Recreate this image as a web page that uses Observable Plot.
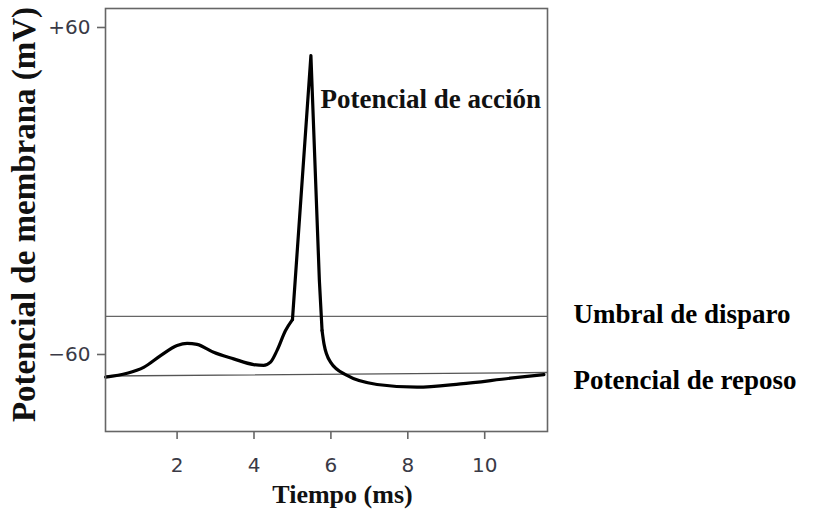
<!DOCTYPE html>
<html><head><meta charset="utf-8">
<script src="https://cdn.jsdelivr.net/npm/d3@7"></script>
<script src="https://cdn.jsdelivr.net/npm/@observablehq/plot@0.6"></script>
<style>body{margin:0;background:#fff}</style>
</head><body><div id="chart"></div>
<script>
// Action potential trace (time in ms, membrane potential in mV)
const time    = [0.14, 0.70, 1.13, 1.57, 2.00, 2.26, 2.52, 2.95, 3.47, 3.99, 4.25, 4.43, 4.60, 4.82, 5.00, 5.48, 5.70, 5.77, 5.82, 5.99, 6.42, 7.20, 8.24, 9.37, 10.67, 11.54];
const voltage = [-68.3, -66.9, -64.7, -60.4, -56.7, -55.9, -56.3, -59.2, -61.6, -63.7, -64.0, -62.8, -58.5, -51.2, -47.2, 49.7, -32.8, -51.2, -56.1, -62.8, -67.7, -71.0, -72.0, -70.8, -68.7, -67.4];
const kinkIndex = 14;   // threshold kink where the spike starts
const bendIndex = 17;   // foot of the falling phase

const threshold = -46;                 // Umbral de disparo
const restTime = [0.14, 11.63];        // Potencial de reposo line
const restVoltage = [-67.9, -66.6];

const xDomain = [0.138, 11.633];
const yDomain = [-88.26, 66.97];
const xTicks = [2, 4, 6, 8, 10];
const yTicks = [60, -60];

const yLabel = "Potencial de membrana (mV)";
const xLabel = "Tiempo (ms)";
const spikeLabel = ["Potencial de acción"];
const spikeLabelPos = {t: 5.73, v: 33.8};
const thresholdLabel = "Umbral de disparo";
const restLabel = "Potencial de reposo";
const restLabelV = -69.5;

const idx = d3.range(time.length);
const seg1 = idx.slice(0, kinkIndex + 1);
const seg2 = idx.slice(kinkIndex, bendIndex + 1);
const seg3 = idx.slice(bendIndex);
const X = i => time[i], Y = i => voltage[i];
const rest = restTime.map((t, i) => ({t, v: restVoltage[i]}));

const serif = "'Liberation Serif', 'Times New Roman', serif";
const lineStyle = {stroke: "#000", strokeWidth: 3.2, strokeLinejoin: "round", strokeLinecap: "round"};

const chart = Plot.plot({
  width: 819, height: 512,
  marginLeft: 105, marginRight: 272, marginTop: 8, marginBottom: 81,
  style: {fontFamily: "'DejaVu Sans', sans-serif", background: "#fff", color: "#333", overflow: "visible"},
  x: {domain: xDomain},
  y: {domain: yDomain},
  marks: [
    Plot.ruleY([threshold], {stroke: "#666", strokeWidth: 1.3}),
    Plot.line(rest, {x: "t", y: "v", stroke: "#555", strokeWidth: 1.3}),
    Plot.line(seg1, {x: X, y: Y, curve: "monotone-x", ...lineStyle}),
    Plot.line(seg2, {x: X, y: Y, curve: "linear", ...lineStyle}),
    Plot.line(seg3, {x: X, y: Y, curve: "monotone-x", ...lineStyle}),
    Plot.frame({stroke: "#666", strokeWidth: 1.6}),
    Plot.axisX({ticks: xTicks, tickSize: 8, tickPadding: 18, fontSize: 20, label: null, stroke: "#666", strokeWidth: 1.6, fill: "#3a3a46"}),
    Plot.axisY({ticks: yTicks, tickSize: 8, tickPadding: 7, fontSize: 20, label: null, stroke: "#666", strokeWidth: 1.6, fill: "#3a3a46",
      tickFormat: d => d > 0 ? "+" + d : "\u2212" + Math.abs(d)}),
    Plot.text([yLabel], {text: d => d, frameAnchor: "left", rotate: -90, dx: -80.6, dy: -5.5, textAnchor: "middle", lineAnchor: "middle",
      fontSize: 33, fontFamily: serif, fontWeight: "bold", fill: "#111"}),
    Plot.text([xLabel], {text: d => d, frameAnchor: "bottom", dx: 16, dy: 62.7, textAnchor: "middle", lineAnchor: "middle",
      fontSize: 26, fontFamily: serif, fontWeight: "bold", fill: "#111"}),
    Plot.text(spikeLabel, {text: d => d, x: () => spikeLabelPos.t, y: () => spikeLabelPos.v, textAnchor: "start", lineAnchor: "middle",
      fontSize: 27, fontFamily: serif, fontWeight: "bold", fill: "#111"}),
    Plot.text([thresholdLabel], {text: d => d, y: () => threshold, frameAnchor: "right", dx: 26, dy: -1.5, textAnchor: "start", lineAnchor: "middle",
      fontSize: 27, fontFamily: serif, fontWeight: "bold", fill: "#000"}),
    Plot.text([restLabel], {text: d => d, y: () => restLabelV, frameAnchor: "right", dx: 26, textAnchor: "start", lineAnchor: "middle",
      fontSize: 27, fontFamily: serif, fontWeight: "bold", fill: "#000"})
  ]
});
document.getElementById("chart").append(chart);
</script>
</body></html>
